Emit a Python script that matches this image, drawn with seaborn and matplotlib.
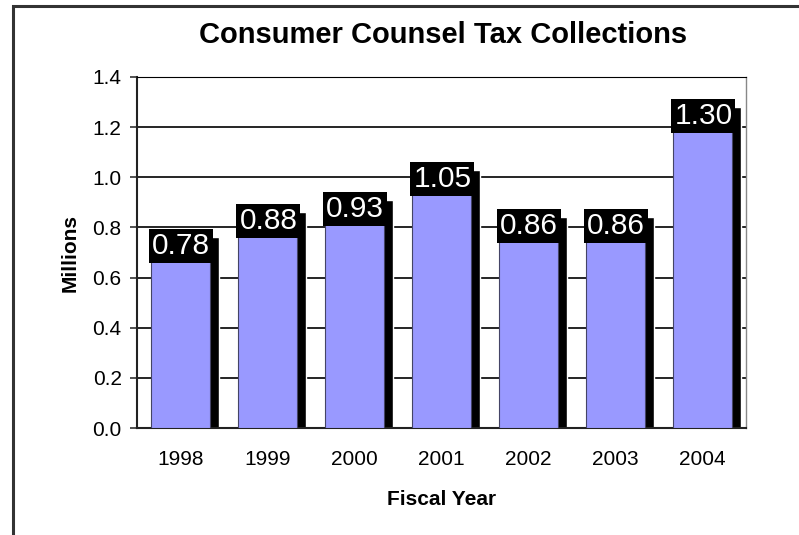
import matplotlib
matplotlib.use("Agg")
import matplotlib.pyplot as plt
import matplotlib.transforms as mtransforms
from matplotlib.patches import Rectangle
import seaborn as sns
import numpy as np
import pandas as pd

years = ["1998", "1999", "2000", "2001", "2002", "2003", "2004"]
collections = [0.78, 0.88, 0.93, 1.05, 0.86, 0.86, 1.30]

df = pd.DataFrame({"year": years, "millions": collections})

sns.set_style("white")
plt.rcParams["font.family"] = ["Liberation Sans", "DejaVu Sans"]
plt.rcParams["text.color"] = "black"
plt.rcParams["axes.labelcolor"] = "black"
plt.rcParams["xtick.color"] = "black"
plt.rcParams["ytick.color"] = "black"

fig = plt.figure(figsize=(7.99, 5.35), dpi=100)
ax = fig.add_axes([137 / 799, 1 - 428 / 535, (746 - 137) / 799, (428 - 77) / 535])

# Outer frame of the chart (clipped off at right and bottom)
fig.patches.append(Rectangle((13 / 799, -0.05), 1.2, (535 - 6) / 535 + 0.05,
                             transform=fig.transFigure, fill=False,
                             edgecolor="#333333", linewidth=2.2, zorder=0))

# Shadow bars, then main bars
sns.barplot(data=df, x="year", y="millions", color="black", width=0.68,
            saturation=1, ax=ax, zorder=2)
n_shadow = len(ax.patches)
sns.barplot(data=df, x="year", y="millions", color="#9999FF", width=0.68,
            saturation=1, edgecolor="#444466", linewidth=0.8, ax=ax, zorder=3)

shadow_tr = mtransforms.offset_copy(ax.transData, fig=fig, x=9, y=-5, units="dots")
for p in ax.patches[:n_shadow]:
    p.set_transform(shadow_tr)

# Value labels: white text on black box at top of each bar
for p, v in zip(ax.patches[n_shadow:], collections):
    ax.text(p.get_x() + p.get_width() / 2 + 0.01, v, f"{v:.2f}",
            ha="center", va="top", color="white", fontsize=21.5,
            bbox=dict(boxstyle="square,pad=0.1", facecolor="black", edgecolor="none"),
            zorder=5)

ax.set_ylim(0, 1.4)
ax.set_xlim(-0.5, len(years) - 0.5)
ax.set_yticks(np.arange(0, 1.41, 0.2))
ax.set_yticklabels([f"{t:.1f}" for t in np.arange(0, 1.41, 0.2)])
ax.yaxis.grid(True, color="black", linewidth=1.2, zorder=0)
ax.set_axisbelow(True)

ax.set_xticks(np.arange(-0.5, len(years), 1), minor=True)
ax.tick_params(axis="x", which="major", length=0, pad=16, labelsize=15)
ax.tick_params(axis="x", which="minor", length=5, width=1.2, color="#333333", direction="out")
ax.tick_params(axis="y", length=5, width=1.2, color="#333333", direction="out",
               pad=6, labelsize=15, left=True)

for side in ["left", "bottom"]:
    ax.spines[side].set_color("#222222")
    ax.spines[side].set_linewidth(1.5)
ax.spines["right"].set_color("#888888")
ax.spines["top"].set_color("black")
ax.spines["right"].set_linewidth(1.0)

ax.set_xlabel("Fiscal Year", fontsize=15, fontweight="bold", labelpad=15)
ax.set_ylabel("Millions", fontsize=15, fontweight="bold", labelpad=9)
fig.text(443 / 799, 1 - 35 / 535, "Consumer Counsel Tax Collections",
         ha="center", va="center", fontsize=21, fontweight="bold")

fig.savefig("out.png", dpi=100, facecolor="white")
